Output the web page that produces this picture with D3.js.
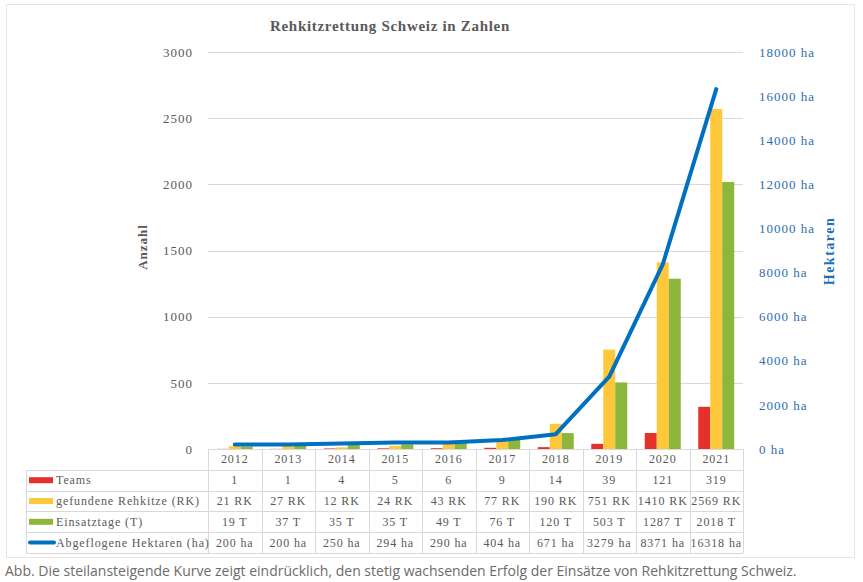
<!DOCTYPE html>
<html><head><meta charset="utf-8">
<script src="https://cdn.jsdelivr.net/npm/d3@7"></script>
<style>
html,body{margin:0;padding:0;background:#fff;}
svg{display:block;}
.ser{font-family:"Liberation Serif","DejaVu Serif",serif;}
</style></head>
<body>
<script>
const years = ["2012","2013","2014","2015","2016","2017","2018","2019","2020","2021"];
const teams = [1,1,4,5,6,9,14,39,121,319];
const rehkitze = [21,27,12,24,43,77,190,751,1410,2569];
const einsatztage = [19,37,35,35,49,76,120,503,1287,2018];
const hektaren = [200,200,250,294,290,404,671,3279,8371,16318];
const leftTicks = [0,500,1000,1500,2000,2500,3000];
const rightTicks = [0,2000,4000,6000,8000,10000,12000,14000,16000,18000];
const seriesNames = ["Teams","gefundene Rehkitze (RK)","Einsatztage (T)","Abgeflogene Hektaren (ha)"];
const seriesUnits = ["", " RK", " T", " ha"];
const title = "Rehkitzrettung Schweiz in Zahlen";
const caption = "Abb. Die steilansteigende Kurve zeigt eindrücklich, den stetig wachsenden Erfolg der Einsätze von Rehkitzrettung Schweiz.";

const W = 863, H = 582;
const colors = ["#E5312C", "#FFC83A", "#8CB63C", "#0070C0"];
const grey = "#595959", gridC = "#D9D9D9", blueT = "#2E6DB4";
const serif = "Liberation Serif";

const svg = d3.select("body").append("svg").attr("width", W).attr("height", H);

svg.append("rect").attr("x", 6.5).attr("y", 4.5).attr("width", 848).attr("height", 553)
  .attr("fill", "#fff").attr("stroke", "#E6E6E6");

const L = 208, R = 743, T = 52, B = 449;
const x = d3.scaleBand().domain(years).range([L, R]).paddingInner(0).paddingOuter(0);
const y = d3.scaleLinear().domain([0, 3000]).range([B, T]);
const y2 = d3.scaleLinear().domain([0, 18000]).range([B, T]);
const barKeys = ["teams", "rk", "t"];
const sub = d3.scaleBand().domain(barKeys).range([0, x.bandwidth()]).paddingInner(0).paddingOuter(0.73);

svg.append("g").selectAll("line").data(leftTicks).join("line")
  .attr("x1", L).attr("x2", R).attr("y1", d => Math.round(y(d)) + 0.5).attr("y2", d => Math.round(y(d)) + 0.5)
  .attr("stroke", gridC).attr("stroke-width", 1);

const la = svg.append("g").attr("transform", `translate(${L - 15},0)`)
  .call(d3.axisLeft(y).tickValues(leftTicks).tickSize(0).tickPadding(0).tickFormat(d3.format("d")));
la.select(".domain").remove();
la.selectAll("text").attr("font-family", serif).attr("font-size", 13).attr("fill", grey)
  .attr("letter-spacing", "1px");

const ra = svg.append("g").attr("transform", `translate(${R + 16},0)`)
  .call(d3.axisRight(y2).tickValues(rightTicks).tickSize(0).tickPadding(0).tickFormat(d => d + " ha"));
ra.select(".domain").remove();
ra.selectAll("text").attr("font-family", serif).attr("font-size", 13).attr("fill", blueT)
  .attr("letter-spacing", "1px");

const barData = years.map((yr, i) => ({yr, vals: [teams[i], rehkitze[i], einsatztage[i]]}));
const gBars = svg.append("g");
barData.forEach(d => {
  gBars.selectAll(null).data(d.vals.map((v, k) => ({k: barKeys[k], v, c: colors[k]}))).join("rect")
    .attr("x", e => x(d.yr) + sub(e.k))
    .attr("width", sub.bandwidth())
    .attr("y", e => y(e.v))
    .attr("height", e => B - y(e.v))
    .attr("fill", e => e.c);
});

const line = d3.line().x((d, i) => x(years[i]) + x.bandwidth() / 2).y(d => y2(d));
svg.append("path").datum(hektaren).attr("d", line).attr("fill", "none")
  .attr("stroke", colors[3]).attr("stroke-width", 4).attr("stroke-linejoin", "round").attr("stroke-linecap", "round");

svg.append("text").attr("x", 390).attr("y", 31).attr("text-anchor", "middle")
  .attr("font-family", serif).attr("font-size", 15).attr("font-weight", "bold")
  .attr("letter-spacing", "0.7px").attr("fill", grey).text(title);

svg.append("text").attr("transform", `translate(147,247) rotate(-90)`).attr("text-anchor", "middle")
  .attr("font-family", serif).attr("font-size", 13).attr("font-weight", "bold")
  .attr("letter-spacing", "1px").attr("fill", grey).text("Anzahl");
svg.append("text").attr("class", "ser").attr("transform", `translate(834,251) rotate(-90)`).attr("text-anchor", "middle")
  .attr("font-size", 14).attr("font-weight", "bold")
  .attr("letter-spacing", "1.5px").attr("fill", "#1F6FB8").text("Hektaren");

const rowH = 20.8;
const tL = 26;
const rowsY = d3.range(6).map(i => B + i * rowH);
const tg = svg.append("g");
rowsY.forEach((ry, i) => {
  tg.append("line").attr("x1", i === 0 ? L : tL).attr("x2", R)
    .attr("y1", Math.round(ry) + 0.5).attr("y2", Math.round(ry) + 0.5)
    .attr("stroke", gridC);
});
tg.append("line").attr("x1", tL + 0.5).attr("x2", tL + 0.5).attr("y1", rowsY[1]).attr("y2", rowsY[5]).attr("stroke", gridC);
years.concat(["end"]).forEach((yr) => {
  const xx = yr === "end" ? R : x(yr);
  tg.append("line").attr("x1", Math.round(xx) + 0.5).attr("x2", Math.round(xx) + 0.5)
    .attr("y1", rowsY[0]).attr("y2", rowsY[5]).attr("stroke", gridC);
});
const tFont = (s) => s.attr("font-family", serif).attr("font-size", 12).attr("fill", grey).attr("letter-spacing", "0.9px");
tg.selectAll(null).data(years).join("text")
  .attr("x", d => x(d) + x.bandwidth() / 2).attr("y", rowsY[0] + rowH / 2 + 4)
  .attr("text-anchor", "middle").call(tFont).text(d => d);
const rows = [teams, rehkitze, einsatztage, hektaren];
rows.forEach((arr, r) => {
  const cy = rowsY[r + 1] + rowH / 2;
  tg.selectAll(null).data(arr).join("text")
    .attr("x", (d, i) => x(years[i]) + x.bandwidth() / 2).attr("y", cy + 4)
    .attr("text-anchor", "middle").call(tFont).text(d => d + seriesUnits[r]);
  if (r < 3) {
    tg.append("rect").attr("x", tL + 3).attr("y", cy - 3).attr("width", 24).attr("height", 6).attr("fill", colors[r]);
  } else {
    tg.append("line").attr("x1", tL + 4).attr("x2", tL + 28).attr("y1", cy).attr("y2", cy)
      .attr("stroke", colors[r]).attr("stroke-width", 4).attr("stroke-linecap", "round");
  }
  tg.append("text").attr("x", tL + 30).attr("y", cy + 4).call(tFont).text(seriesNames[r]);
});

svg.append("text").attr("x", 5).attr("y", 576)
  .attr("font-family", "Open Sans").attr("font-size", 14).attr("fill", "#6B6B6B")
  .text(caption);
</script>
</body></html>
